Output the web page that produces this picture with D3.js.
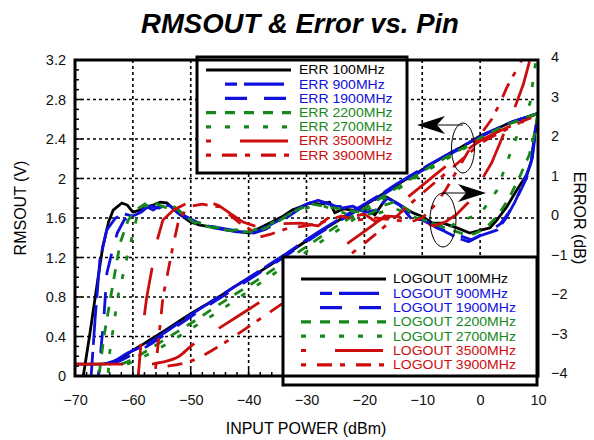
<!DOCTYPE html>
<html>
<head>
<meta charset="utf-8">
<script src="https://cdn.jsdelivr.net/npm/d3@7"></script>
<style>
  html, body { margin: 0; padding: 0; background: #fff; }
  svg { display: block; font-family: "Liberation Sans", Arial, Helvetica, sans-serif; }
</style>
</head>
<body>
<svg id="chart" width="594" height="440"></svg>
<script>
// ---- Axis ticks ----
const xTicks = [-70, -60, -50, -40, -30, -20, -10, 0, 10];
const yLeftTicks = [0, 0.4, 0.8, 1.2, 1.6, 2, 2.4, 2.8, 3.2];
const yRightTicks = [-4, -3, -2, -1, 0, 1, 2, 3, 4];

// ---- Series names / styles ----
const freqs = ["100MHz", "900MHz", "1900MHz", "2200MHz", "2700MHz", "3500MHz", "3900MHz"];
const colors = ["#000000", "#1010dd", "#1010dd", "#16881a", "#16881a", "#cc0d0d", "#cc0d0d"];
const dashes = ["none", "40,7", "22,17", "10,9", "5,14", "48,29", "15,8,5,11"];
// legend sample: start offset from the sample's left end, and dash phase
const legendStart = [0, 19, 19, 0, 0, 0, 0];
const legendPhase = [0, 28, 0, 0, 0, 43, 23];

// ---- RMSOUT (V) vs input power (dBm) ----
const pinLog100 = [-70, -66, -64, -62, -60, -58, -55, -50, -46, -42, -38, -34, -30, -26, -22, -18, -14, -10, -6, -2, 0, 2, 5, 8, 10];
const logout100 = [0.12, 0.12, 0.13, 0.18, 0.26, 0.33, 0.44, 0.63, 0.77, 0.92, 1.06, 1.21, 1.37, 1.52, 1.66, 1.80, 1.95, 2.09, 2.23, 2.36, 2.43, 2.48, 2.56, 2.62, 2.66];
const pinLog900 = [-65, -63, -61, -58, -55, -50, -46, -42, -38, -34, -30, -26, -22, -18, -14, -10, -6, -2, 0, 2, 5, 8, 10];
const logout900 = [0.12, 0.16, 0.23, 0.31, 0.42, 0.62, 0.77, 0.92, 1.07, 1.22, 1.38, 1.53, 1.67, 1.81, 1.96, 2.10, 2.23, 2.36, 2.42, 2.48, 2.56, 2.62, 2.66];
const pinLog1900 = [-64, -62, -60, -57, -54, -50, -46, -42, -38, -34, -30, -26, -22, -18, -14, -10, -6, -2, 0, 2, 5, 8, 10];
const logout1900 = [0.12, 0.16, 0.22, 0.32, 0.44, 0.60, 0.75, 0.90, 1.05, 1.20, 1.36, 1.51, 1.65, 1.79, 1.94, 2.08, 2.22, 2.35, 2.42, 2.48, 2.56, 2.62, 2.66];
const pinLog2200 = [-62, -60, -58, -55, -52, -49, -46, -42, -38, -34, -30, -26, -22, -18, -14, -10, -6, -2, 0, 2, 5, 8, 10];
const logout2200 = [0.12, 0.17, 0.24, 0.35, 0.46, 0.57, 0.69, 0.84, 0.99, 1.15, 1.31, 1.47, 1.62, 1.77, 1.92, 2.07, 2.21, 2.34, 2.41, 2.47, 2.55, 2.62, 2.66];
const pinLog2700 = [-61, -59, -57, -54, -51, -48, -45, -42, -38, -34, -30, -26, -22, -18, -14, -10, -6, -2, 0, 2, 5, 8, 10];
const logout2700 = [0.12, 0.17, 0.23, 0.33, 0.44, 0.55, 0.66, 0.78, 0.94, 1.10, 1.26, 1.42, 1.58, 1.74, 1.90, 2.05, 2.19, 2.33, 2.40, 2.46, 2.55, 2.61, 2.66];
const pinLog3500 = [-70, -57, -55, -52, -50, -46, -42, -38, -34, -30, -26, -22, -18, -14, -10, -6, -2, 0, 3, 6, 10];
const logout3500 = [0.12, 0.12, 0.14, 0.20, 0.30, 0.45, 0.60, 0.75, 0.90, 1.06, 1.22, 1.38, 1.55, 1.74, 1.93, 2.12, 2.30, 2.38, 2.47, 2.55, 2.64];
const pinLog3900 = [-54, -50, -46, -42, -38, -34, -30, -26, -22, -18, -14, -10, -6, -2, 0, 4, 7, 10];
const logout3900 = [0.10, 0.15, 0.27, 0.42, 0.58, 0.74, 0.90, 1.07, 1.25, 1.44, 1.64, 1.85, 2.05, 2.25, 2.35, 2.48, 2.57, 2.64];

// ---- Error (dB) vs input power (dBm) ----
const pinErr100 = [-69.0, -67.5, -66.9, -66, -65.2, -64.2, -63.4, -61.9, -61, -60, -58.8, -57.6, -56.5, -55.3, -54.1, -52.4, -50.1, -48.4, -46.2, -43.7, -41.5, -39.8, -38, -36, -34, -32.5, -31.1, -29.4, -27.5, -26, -25.1, -23.7, -22, -19.6, -18.2, -16.1, -13.9, -11.6, -9.9, -8.2, -6.4, -4, -1.8, 0.3, 1.7, 2.9, 4.6, 6.3, 8.1, 8.9, 9.4, 10];
const err100 = [-4.4, -3.0, -2.4, -1.5, -0.73, -0.1, 0.2, 0.38, 0.33, 0.15, 0.2, 0.28, 0.33, 0.4, 0.38, 0.15, -0.1, -0.18, -0.23, -0.3, -0.35, -0.38, -0.25, -0.1, 0.05, 0.2, 0.28, 0.38, 0.35, 0.4, 0.13, 0.23, 0.2, 0.2, 0.08, 0.53, 0.33, 0.13, 0.03, -0.13, -0.13, -0.25, -0.38, -0.3, -0.25, -0.05, 0.28, 0.7, 1.1, 1.47, 2.1, 2.6];
const pinErr900 = [-67.4, -66.5, -65.7, -64.5, -63, -61.5, -60, -58.5, -57.5, -56.5, -55, -53.5, -52, -50, -48, -46, -44, -42, -40, -38, -36, -34, -32, -30, -28, -26, -24, -22, -20, -18, -16, -14, -12, -10, -8, -6, -4, -2, 0, 2, 3, 4.5, 6, 7.5, 8.8, 9.5, 10];
const err900 = [-4.4, -2.5, -1.06, -0.3, 0.0, 0.1, 0.05, 0.15, 0.28, 0.2, 0.35, 0.3, 0.1, -0.05, -0.15, -0.25, -0.3, -0.35, -0.35, -0.3, -0.15, 0.0, 0.2, 0.35, 0.45, 0.35, 0.25, 0.3, 0.15, 0.2, 0.5, 0.35, 0.0, -0.05, -0.2, -0.35, -0.5, -0.6, -0.45, -0.35, -0.3, 0.0, 0.4, 0.9, 1.4, 2.2, 2.6];
const pinErr1900 = [-66.2, -65, -64.5, -63.5, -62.7, -61.5, -60, -58.5, -57, -55.5, -54, -52.5, -51, -49, -47, -45, -43, -41, -39, -37, -35, -33, -31, -29, -27, -25, -23, -21, -19, -17, -15.5, -13.5, -11.5, -9.5, -7.5, -5.5, -3.5, -1.5, 0.5, 2, 3.5, 5, 6.5, 8, 9, 9.6, 10];
const err1900 = [-4.4, -2.5, -1.4, -0.8, -0.38, -0.05, 0.1, 0.2, 0.3, 0.25, 0.35, 0.25, 0.05, -0.1, -0.2, -0.25, -0.3, -0.35, -0.38, -0.28, -0.12, 0.05, 0.25, 0.35, 0.4, 0.3, 0.28, 0.25, 0.12, 0.25, 0.45, 0.3, 0.05, -0.05, -0.25, -0.35, -0.45, -0.55, -0.4, -0.3, -0.15, 0.15, 0.55, 1.0, 1.5, 2.2, 2.6];
const pinErr2200 = [-66.2, -65, -63.6, -62.2, -60.8, -59.5, -58, -56.5, -55, -53, -51, -49, -47, -45, -43, -41, -39, -37, -35, -33, -31, -29, -27, -25, -23, -21, -19, -17, -15, -13, -11, -9, -7, -5, -3, -1, 1, 3, 5, 7, 8.5, 9.5, 10];
const err2200 = [-4.4, -3.0, -1.8, -0.63, -0.05, 0.2, 0.35, 0.4, 0.3, 0.3, 0.05, -0.15, -0.22, -0.28, -0.32, -0.35, -0.35, -0.25, -0.1, 0.1, 0.25, 0.35, 0.3, 0.25, 0.2, 0.15, 0.1, 0.3, 0.4, 0.25, 0.05, -0.1, -0.2, -0.3, -0.4, -0.4, -0.25, 0.05, 0.5, 1.1, 1.6, 2.2, 2.7];
const pinErr2700 = [-64.5, -64, -62.6, -61, -59.3, -58, -56.5, -55, -53, -51, -49, -47, -45, -43, -41, -39, -37, -35, -33, -31, -29, -27, -25, -23, -21, -19, -17, -15, -13, -11, -9, -7, -5, -4, -2, 0, 1, 2.9, 4.6, 6.3, 8.6, 9.4, 10];
const err2700 = [-4.4, -3.4, -2.0, -1.0, 0.03, 0.3, 0.35, 0.3, 0.2, 0.1, -0.1, -0.2, -0.25, -0.3, -0.3, -0.3, -0.2, -0.05, 0.1, 0.2, 0.3, 0.3, 0.2, 0.1, 0.1, 0.05, 0.15, 0.25, 0.15, 0.0, -0.1, -0.2, -0.2, -0.1, 0.0, 0.1, 0.3, 0.7, 1.4, 2.05, 2.9, 3.75, 4.3];
const pinErr3500 = [-59.3, -58.5, -57.6, -55.8, -54.8, -53, -51, -48.4, -46.7, -45, -43, -41, -39, -37, -35, -31, -28, -26, -23, -20, -18, -16, -14, -12, -10, -8, -6, -4, -2, 0, 2, 4, 6, 7.5, 8.6, 9.2];
const err3500 = [-4.4, -3.0, -2.0, -0.56, -0.05, 0.2, 0.35, 0.45, 0.4, 0.3, 0.1, -0.1, -0.2, -0.25, -0.15, -0.13, -0.2, 0.03, 0.0, 0.1, -0.1, 0.05, 0.03, -0.05, -0.1, -0.2, -0.1, 0.1, 0.4, 0.9, 1.4, 2.1, 2.8, 3.4, 4.0, 4.4];
const pinErr3900 = [-56.5, -55.5, -54.8, -53.1, -52.2, -50.6, -48, -45, -43, -41.5, -40.3, -38, -36, -33, -30, -27, -24, -21, -18, -15, -12, -10, -8, -6, -4, -2, 0, 2, 3.4, 4.6, 5.7, 6.9, 8];
const err3900 = [-4.4, -3.0, -2.0, -0.73, -0.13, 0.28, 0.35, 0.28, 0.05, -0.13, -0.23, -0.48, -0.4, -0.25, -0.2, -0.1, 0.05, -0.05, 0.0, -0.05, -0.1, 0.0, 0.3, 0.7, 1.2, 1.7, 2.1, 2.5, 2.9, 3.3, 3.6, 3.9, 4.3];

const logPins = [pinLog100, pinLog900, pinLog1900, pinLog2200, pinLog2700, pinLog3500, pinLog3900];
const logVals = [logout100, logout900, logout1900, logout2200, logout2700, logout3500, logout3900];
const errPins = [pinErr100, pinErr900, pinErr1900, pinErr2200, pinErr2700, pinErr3500, pinErr3900];
const errVals = [err100, err900, err1900, err2200, err2700, err3500, err3900];

// ---- Layout ----
const plot = { left: 75, right: 538, top: 60, bottom: 376 };
const svg = d3.select("#chart");

const x = d3.scaleLinear().domain([-70, 10]).range([plot.left, plot.right]);
const yL = d3.scaleLinear().domain([0, 3.2]).range([plot.bottom, plot.top]);
const yR = d3.scaleLinear().domain([-4, 4]).range([plot.bottom, plot.top]);

svg.append("defs").append("clipPath").attr("id", "plotClip")
  .append("rect").attr("x", plot.left).attr("y", plot.top)
  .attr("width", plot.right - plot.left).attr("height", plot.bottom - plot.top);

// Title
svg.append("text").attr("x", 300).attr("y", 33).attr("text-anchor", "middle")
  .attr("font-size", 27.5).attr("font-weight", "bold").attr("font-style", "italic")
  .text("RMSOUT & Error vs. Pin");

// Grid
const grid = svg.append("g").attr("stroke", "#000").attr("stroke-width", 1.6).attr("stroke-dasharray", "3,3");
xTicks.slice(1, -1).forEach(v => grid.append("line")
  .attr("x1", x(v)).attr("x2", x(v)).attr("y1", plot.top).attr("y2", plot.bottom));
yLeftTicks.slice(1, -1).forEach(v => grid.append("line")
  .attr("x1", plot.left).attr("x2", plot.right).attr("y1", yL(v)).attr("y2", yL(v)));

// Axes via d3 axis generators (labels only; tick marks are drawn inside the frame)
const axisFont = 14.5;
const bottomAxis = svg.append("g").attr("transform", `translate(0,${plot.bottom})`)
  .call(d3.axisBottom(x).tickValues(xTicks).tickSize(0).tickPadding(19).tickFormat(d3.format("d")));
const leftAxis = svg.append("g").attr("transform", `translate(${plot.left},0)`)
  .call(d3.axisLeft(yL).tickValues(yLeftTicks).tickSize(0).tickPadding(9).tickFormat(d => d3.format("")(d)));
const rightAxis = svg.append("g").attr("transform", `translate(${plot.right},-3)`)
  .call(d3.axisRight(yR).tickValues(yRightTicks).tickSize(0).tickPadding(13).tickFormat(d3.format("d")));
[bottomAxis, leftAxis, rightAxis].forEach(g => {
  g.select(".domain").remove();
  g.selectAll("text").attr("font-size", axisFont).attr("font-family", "Liberation Sans, Arial, sans-serif").attr("fill", "#111");
});

// Minor tick marks inside the frame
const ticks = svg.append("g").attr("stroke", "#000").attr("stroke-width", 1.5);
d3.range(0, 3.2001, 0.1).forEach(v => {
  const major = Math.abs(v * 10 % 4) < 1e-6;
  ticks.append("line").attr("x1", plot.left).attr("x2", plot.left + (major ? 7 : 4))
    .attr("y1", yL(v)).attr("y2", yL(v));
});
d3.range(-70, 10.001, 2).forEach(v => {
  const major = v % 10 === 0;
  ticks.append("line").attr("x1", x(v)).attr("x2", x(v))
    .attr("y1", plot.bottom).attr("y2", plot.bottom - (major ? 7 : 4));
});

// Curves
const curves = svg.append("g").attr("clip-path", "url(#plotClip)").attr("fill", "none")
  .attr("stroke-width", 2.8).attr("stroke-linejoin", "round");
const lineL = d3.line().x(d => x(d[0])).y(d => yL(d[1])).curve(d3.curveMonotoneX);
const lineR = d3.line().x(d => x(d[0])).y(d => yR(d[1]));
for (let i = 0; i < freqs.length; i++) {
  const logPts = d3.zip(logPins[i], logVals[i]);
  const errPts = d3.zip(errPins[i], errVals[i]);
  curves.append("path").attr("d", lineL(logPts)).attr("stroke", colors[i])
    .attr("stroke-dasharray", dashes[i]);
  curves.append("path").attr("d", lineR(errPts)).attr("stroke", colors[i])
    .attr("stroke-dasharray", dashes[i]);
}

// Annotation ellipses with arrows pointing to the matching axis
const ann = svg.append("g").attr("stroke", "#000").attr("fill", "none").attr("stroke-width", 1);
ann.append("ellipse").attr("cx", 463).attr("cy", 148).attr("rx", 11.5).attr("ry", 25);
ann.append("line").attr("x1", 463).attr("x2", 436).attr("y1", 125).attr("y2", 125);
ann.append("path").attr("fill", "#000").attr("stroke", "none")
  .attr("d", "M417,125 L445,116 L437,125 L445,134 Z");
ann.append("ellipse").attr("cx", 443).attr("cy", 220).attr("rx", 13).attr("ry", 27);
ann.append("line").attr("x1", 443).attr("x2", 466).attr("y1", 193).attr("y2", 193);
ann.append("path").attr("fill", "#000").attr("stroke", "none")
  .attr("d", "M486,193 L458,184 L466,193 L458,202 Z");

// Legends
function legend(prefix, box, lineX1, lineX2, textX, rowY0, rowStep) {
  const g = svg.append("g");
  g.append("rect").attr("x", box[0]).attr("y", box[1]).attr("width", box[2]).attr("height", box[3])
    .attr("fill", "#fff").attr("stroke", "#000").attr("stroke-width", 3);
  freqs.forEach((f, i) => {
    const yy = rowY0 + i * rowStep;
    g.append("line").attr("x1", lineX1 + legendStart[i]).attr("x2", lineX2).attr("y1", yy).attr("y2", yy)
      .attr("stroke", colors[i]).attr("stroke-width", 3.2).attr("stroke-dasharray", dashes[i])
      .attr("stroke-dashoffset", legendPhase[i]);
    g.append("text").attr("transform", `translate(${textX},${yy + 4.3}) scale(1.17,1)`)
      .attr("font-size", 12).attr("fill", colors[i]).text(prefix + " " + f);
  });
}
legend("ERR", [197, 57, 210, 116], 206, 291, 299, 70, 14.2);
legend("LOGOUT", [283, 257, 254, 128], 301, 386, 393, 279, 14.3);

// Plot frame
svg.append("rect").attr("x", plot.left).attr("y", plot.top)
  .attr("width", plot.right - plot.left).attr("height", plot.bottom - plot.top)
  .attr("fill", "none").attr("stroke", "#000").attr("stroke-width", 3);

// Axis titles
svg.append("text").attr("x", 306).attr("y", 434).attr("text-anchor", "middle")
  .attr("font-size", 16).text("INPUT POWER (dBm)");
svg.append("text").attr("transform", "translate(26,208) rotate(-90)").attr("text-anchor", "middle")
  .attr("font-size", 16).text("RMSOUT (V)");
svg.append("text").attr("transform", "translate(574,218) rotate(90)").attr("text-anchor", "middle")
  .attr("font-size", 16).text("ERROR (dB)");
</script>
</body>
</html>
